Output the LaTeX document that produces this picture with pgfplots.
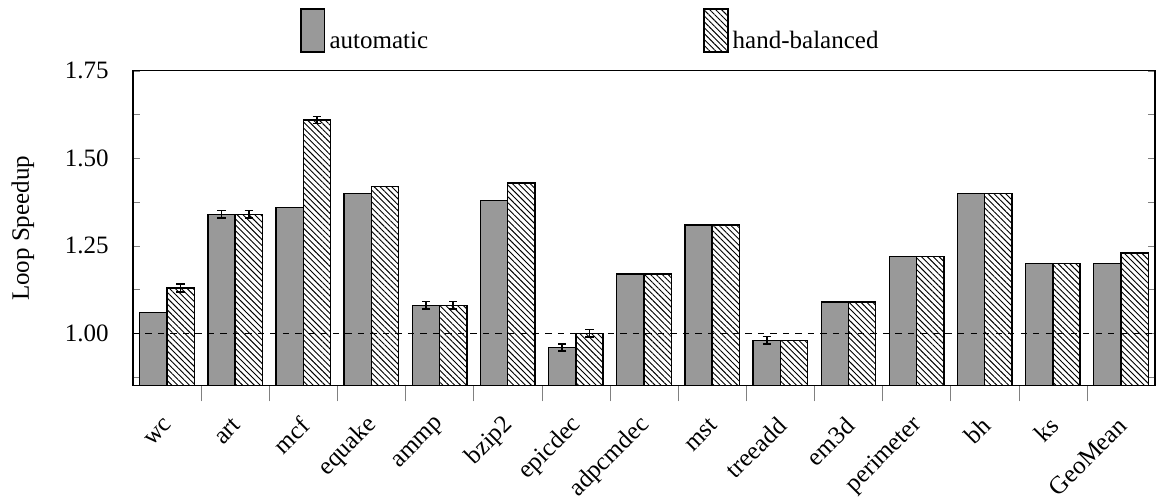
\documentclass[border=0pt]{standalone}
\usepackage{fontspec}
\setmainfont{Liberation Serif}
\usepackage{pgfplots}
\usepackage{pgfplotstable}
\pgfplotsset{compat=1.18}
\usetikzlibrary{patterns.meta}

\definecolor{autogray}{RGB}{153,153,153}

% Loop speedup per benchmark, with error half-widths
\pgfplotstableread{
idx name      auto autoerr hand handerr
0   wc        1.06 0       1.13 0.011
1   art       1.34 0.011   1.34 0.011
2   mcf       1.36 0       1.61 0.010
3   equake    1.40 0       1.42 0
4   ammp      1.08 0.011   1.08 0.011
5   bzip2     1.38 0       1.43 0
6   epicdec   0.96 0.010   1.00 0.011
7   adpcmdec  1.17 0       1.17 0
8   mst       1.31 0       1.31 0
9   treeadd   0.98 0.011   0.98 0
10  em3d      1.09 0       1.09 0
11  perimeter 1.22 0       1.22 0
12  bh        1.40 0       1.40 0
13  ks        1.20 0       1.20 0
14  GeoMean   1.20 0       1.23 0
}\speedup

\begin{document}
\begin{tikzpicture}[font=\fontsize{12}{14}\selectfont]
\begin{axis}[
  scale only axis,
  width=490.6pt, height=151.2pt,
  xmin=-0.5, xmax=14.5,
  ymin=0.85, ymax=1.75,
  line width=0.6pt,
  ybar, bar width=0.4,
  xtick={0,...,14},
  xticklabels={wc,art,mcf,equake,ammp,bzip2,epicdec,adpcmdec,mst,treeadd,em3d,perimeter,bh,ks,GeoMean},
  major x tick style={draw=none},
  minor xtick={0.5,1.5,...,13.5},
  minor tick length=7.5pt,
  xtick pos=left,
  xticklabel style={inner sep=0pt, yshift=-13.5pt, xshift=1pt, anchor=east, rotate=45},
  ytick={0.875,1.0,1.125,1.25,1.375,1.5,1.625,1.75},
  yticklabels={,1.00,,1.25,,1.50,,1.75},
  ytick pos=both,
  major tick length=3.5pt,
  yticklabel style={xshift=-8pt},
  ylabel={Loop Speedup},
  ylabel style={at={(axis description cs:-0.1076,0.5)}, anchor=center},
  legend columns=2,
  legend style={at={(axis description cs:0.163,1.2)}, anchor=north west,
    draw=none, fill=none, inner sep=0pt,
    /tikz/every even column/.append style={column sep=130pt}},
  legend image code/.code={\draw[#1] (0pt,-5pt) rectangle (11.5pt,15.6pt);},
  error bars/error bar style={line width=0.8pt, black},
  error bars/error mark options={rotate=90, mark size=2pt, line width=0.8pt, black},
]
\addplot[fill=autogray, draw=black, line width=0.65pt, bar shift=-0.2,
  error bars/.cd, y dir=both, y explicit]
  table[x=idx, y=auto, y error=autoerr] {\speedup};
\addlegendentry{automatic}
\addplot[pattern={Lines[angle=-45, distance=2pt, line width=0.45pt]}, draw=black, line width=0.65pt, bar shift=0.2,
  error bars/.cd, y dir=both, y explicit]
  table[x=idx, y=hand, y error=handerr] {\speedup};
\addlegendentry{hand-balanced}
% baseline at speedup 1.0
\addplot[sharp plot, dashed, dash pattern=on 3pt off 3pt, line width=0.6pt, black, forget plot]
  coordinates {(-0.5,1.0) (14.5,1.0)};
\end{axis}
% page margins around the plot
\path ([shift={(-63.8pt,-55.8pt)}]current axis.south west)
  rectangle ([shift={(1.4pt,34pt)}]current axis.north east);
\end{tikzpicture}
\end{document}
